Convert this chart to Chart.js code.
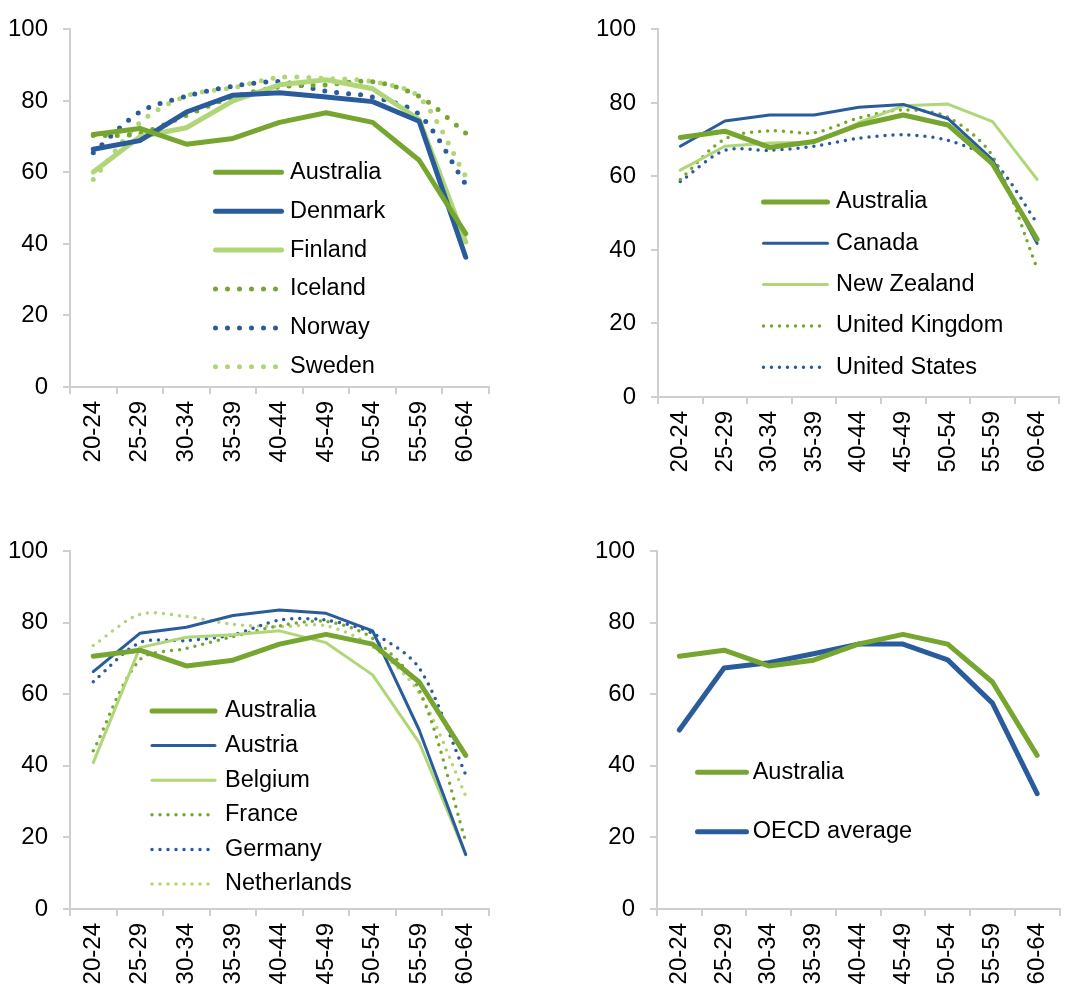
<!DOCTYPE html>
<html>
<head>
<meta charset="utf-8">
<script src="https://cdn.jsdelivr.net/npm/chart.js@4.4.1/dist/chart.umd.min.js"></script>
<style>
    body { margin: 0; background: #fff; }
    .panel { position: absolute; }
</style>
</head>
<body>
<canvas id="c1" class="panel" width="536" height="500" style="left:0px;top:0px"></canvas>
<canvas id="c2" class="panel" width="537" height="500" style="left:536px;top:0px"></canvas>
<canvas id="c3" class="panel" width="536" height="487" style="left:0px;top:500px"></canvas>
<canvas id="c4" class="panel" width="537" height="487" style="left:536px;top:500px"></canvas>
<script>
// age groups on the x axis
const ageGroups = ['20-24', '25-29', '30-34', '35-39', '40-44', '45-49', '50-54', '55-59', '60-64'];
const yTicks = [0, 20, 40, 60, 80, 100];

// employment rates
const australia = [70.6, 72.3, 67.9, 69.5, 74.0, 76.7, 74.0, 63.4, 42.9];

const denmark = [66.5, 68.9, 76.9, 81.6, 82.3, 81.1, 79.8, 74.3, 36.3];
const finland = [60.1, 70.0, 72.5, 80.0, 84.5, 85.9, 83.4, 74.8, 40.6];
const iceland = [70.3, 70.9, 76.0, 81.1, 83.9, 84.5, 85.4, 81.3, 71.0];
const norway = [65.5, 76.9, 81.3, 84.1, 85.4, 82.7, 81.1, 76.2, 56.7];
const sweden = [58.0, 73.9, 81.4, 83.7, 86.6, 86.3, 85.4, 81.1, 58.9];

const canada = [68.2, 75.1, 76.7, 76.7, 78.8, 79.6, 75.7, 64.5, 41.8];
const newZealand = [61.7, 68.2, 69.1, 69.3, 74.6, 79.2, 79.7, 74.9, 59.2];
const unitedKingdom = [59.2, 70.2, 72.4, 71.9, 75.9, 78.1, 76.1, 65.5, 35.0];
const unitedStates = [58.6, 67.1, 67.1, 68.2, 70.4, 71.3, 69.8, 64.3, 47.3];

const austria = [66.3, 77.0, 78.7, 82.0, 83.5, 82.6, 77.7, 50.0, 15.2];
const belgium = [40.9, 73.0, 75.9, 76.6, 77.7, 74.4, 65.4, 46.5, 15.2];
const france = [44.2, 69.6, 72.8, 76.1, 79.1, 80.3, 75.6, 61.2, 18.9];
const germany = [63.5, 74.4, 75.0, 76.6, 80.7, 80.7, 77.0, 67.3, 37.5];
const netherlands = [73.6, 82.3, 81.7, 79.5, 78.9, 79.1, 73.3, 60.3, 31.6];

const oecdAverage = [50.0, 67.3, 68.8, 71.3, 74.0, 74.0, 69.6, 57.5, 32.2];

const GREEN = '#77A630', BLUE = '#2A5C9B', LIGHT = '#B0D678', AXIS = '#CFCFCF';
const LEGEND_FONT = '23.5px "Liberation Sans", Arial, sans-serif';

Chart.defaults.font.family = '"Liberation Sans", Arial, sans-serif';
Chart.defaults.color = '#000';

// legend drawn inside the plot, like the original
const insideLegend = {
    id: 'insideLegend',
    afterDatasetsDraw(chart, args, opts) {
        let ctx = chart.ctx;
        ctx.save();
        chart.data.datasets.forEach((ds, i) => {
            let y = opts.y + i * opts.rowHeight;
            ctx.beginPath();
            ctx.strokeStyle = ds.borderColor;
            ctx.lineWidth = ds.borderWidth;
            ctx.lineCap = 'round';
            ctx.setLineDash(ds.borderDash || []);
            ctx.moveTo(opts.x, y);
            ctx.lineTo(opts.x + opts.sampleWidth, y);
            ctx.stroke();
            ctx.setLineDash([]);
            ctx.fillStyle = '#000';
            ctx.font = opts.font;
            ctx.textBaseline = 'middle';
            ctx.fillText(ds.label, opts.textX, y);
        });
        ctx.restore();
    }
};

function series(label, data, color, width, dotGap) {
    let ds = {
        label: label,
        data: data,
        borderColor: color,
        backgroundColor: color,
        borderWidth: width,
        borderCapStyle: 'round',
        borderJoinStyle: 'round',
        pointRadius: 0,
        tension: 0,
        fill: false,
    };
    if (dotGap) {
        ds.borderDash = [0, dotGap];
        ds.tension = 0.3;
    }
    return ds;
}

function makeChart(id, datasets, box, legend) {
    let canvas = document.getElementById(id);
    return new Chart(canvas, {
        type: 'line',
        data: { labels: ageGroups, datasets: datasets },
        plugins: [insideLegend],
        options: {
            responsive: false,
            animation: false,
            devicePixelRatio: 1,
            layout: { padding: { top: box.top, right: canvas.width - box.right, left: 0, bottom: 0 } },
            plugins: {
                legend: { display: false },
                tooltip: { enabled: false },
                insideLegend: legend,
            },
            scales: {
                x: {
                    type: 'category',
                    offset: true,
                    grid: { offset: true, drawOnChartArea: false, drawTicks: true, tickLength: 7, color: AXIS, lineWidth: 2 },
                    border: { display: true, color: AXIS, width: 2 },
                    ticks: { minRotation: 90, maxRotation: 90, autoSkip: false, padding: 7, font: { size: 24 } },
                    afterFit: (s) => { s.height = canvas.height - box.bottom; },
                },
                y: {
                    min: 0,
                    max: 100,
                    afterBuildTicks: (s) => { s.ticks = yTicks.map(v => ({ value: v })); },
                    grid: { drawOnChartArea: false, drawTicks: true, tickLength: 7, color: AXIS, lineWidth: 2 },
                    border: { display: true, color: AXIS, width: 2 },
                    ticks: { padding: 15, font: { size: 24 } },
                    afterFit: (s) => { s.width = box.left; },
                },
            },
        },
    });
}

makeChart('c1', [
    series('Australia', australia, GREEN, 5),
    series('Denmark', denmark, BLUE, 5),
    series('Finland', finland, LIGHT, 5),
    series('Iceland', iceland, GREEN, 5, 12),
    series('Norway', norway, BLUE, 5, 12),
    series('Sweden', sweden, LIGHT, 5, 12),
], { left: 70, right: 489, top: 19, bottom: 387 },
   { x: 215.5, sampleWidth: 66, textX: 290, y: 172.3, rowHeight: 38.9, font: LEGEND_FONT });

makeChart('c2', [
    series('Australia', australia, GREEN, 5),
    series('Canada', canada, BLUE, 3),
    series('New Zealand', newZealand, LIGHT, 3),
    series('United Kingdom', unitedKingdom, GREEN, 3.5, 8),
    series('United States', unitedStates, BLUE, 3.5, 8),
], { left: 122, right: 536, top: 19, bottom: 397 },
   { x: 227.5, sampleWidth: 64, textX: 300, y: 202, rowHeight: 41.3, font: LEGEND_FONT });

makeChart('c3', [
    series('Australia', australia, GREEN, 5),
    series('Austria', austria, BLUE, 3),
    series('Belgium', belgium, LIGHT, 3),
    series('France', france, GREEN, 3.5, 8),
    series('Germany', germany, BLUE, 3.5, 8),
    series('Netherlands', netherlands, LIGHT, 3.5, 8),
], { left: 70, right: 489, top: 51, bottom: 409 },
   { x: 152, sampleWidth: 63, textX: 225, y: 211, rowHeight: 34.6, font: LEGEND_FONT });

makeChart('c4', [
    series('Australia', australia, GREEN, 5),
    series('OECD average', oecdAverage, BLUE, 5),
], { left: 121, right: 536, top: 51, bottom: 409 },
   { x: 161.5, sampleWidth: 49, textX: 216.7, y: 272.3, rowHeight: 59.4, font: LEGEND_FONT });
</script>
</body>
</html>
